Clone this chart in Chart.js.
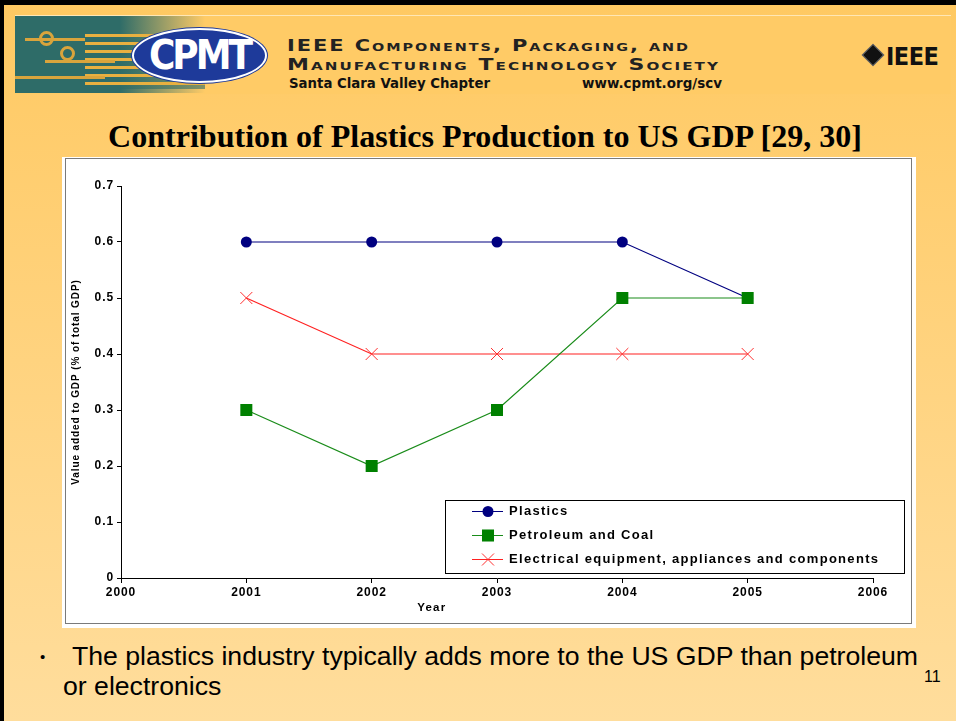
<!DOCTYPE html>
<html lang="en">
<head>
<meta charset="UTF-8">
<title>Contribution of Plastics Production to US GDP</title>
<script src="https://cdn.jsdelivr.net/npm/chart.js@4.4.1/dist/chart.umd.min.js"></script>
<style>
  html, body { margin: 0; padding: 0; }
  body { width: 956px; height: 721px; position: relative; overflow: hidden;
         background: linear-gradient(#FFC962, #FFDD9C); font-family: "Liberation Sans", Arial, sans-serif; }
  #topbar { position: absolute; left: 0; top: 0; width: 956px; height: 5px; background: #000; }
  #leftbar { position: absolute; left: 0; top: 0; width: 4px; height: 721px; background: #000; }
  #strip { position: absolute; left: 15px; top: 15px; width: 936px; height: 78px; background: #FFCB66;
           border-top: 1px solid #FFE7B5; }
  #circuit { position: absolute; left: 15px; top: 16px; width: 190px; height: 77px; overflow: hidden;
             background: linear-gradient(to right, #2E6C68 0 55%, rgba(46,108,104,0) 100%); }
  #circuit .stripes { position: absolute; left: 70px; top: 18px; width: 120px; height: 55px;
             background: repeating-linear-gradient(to bottom, #E8B040 0 3px, rgba(46,108,104,0.6) 3px 8px); }
  #circuit .trace { position: absolute; height: 3px; background: #D9A43C; }
  #circuit .ring { position: absolute; width: 9px; height: 9px; border: 3px solid #D9A43C; border-radius: 50%; }
  #oval { position: absolute; left: 132px; top: 28px; width: 131px; height: 51px; border-radius: 50%;
          background: #1E3A9A; border: 2px solid #fff; box-shadow: 0 0 0 1px #1E3A9A;
          color: #fff; font: bold 40px "DejaVu Sans Condensed", "DejaVu Sans", sans-serif;
          letter-spacing: -3px; text-align: center; line-height: 51px; }
  .fit { position: absolute; white-space: nowrap; transform-origin: left center; }
  .soc { left: 287px; font: bold 16px "DejaVu Sans", sans-serif; font-variant: small-caps;
         letter-spacing: 1.5px; color: #222; }
  .chap { top: 75px; font: bold 14px "DejaVu Sans Condensed", sans-serif; color: #111; }
  #ieee { position: absolute; left: 862px; top: 42px; font: bold 25px "DejaVu Sans Condensed", "DejaVu Sans", sans-serif;
          color: #111; white-space: nowrap; letter-spacing: -0.5px; }
  #ieee span { display: inline-block; width: 14px; height: 14px; background: #111; transform: rotate(45deg);
               margin: 0 5px 0 3px; position: relative; top: -2px; border: 1px solid #777; }
  #title { left: 108px; top: 119px; font: bold 31px "Liberation Serif", "Times New Roman", serif; color: #000; }
  #panel { position: absolute; left: 62px; top: 157px; width: 854px; height: 471px; background: #fff; }
  #frame { position: absolute; left: 3px; top: 1px; width: 845px; height: 464px; border: 1px solid #7a7a7a; }
  #chart { position: absolute; left: 0; top: 0; }
  #bullet { position: absolute; left: 40px; top: 648px; font: 15px "Liberation Sans", sans-serif; }
  .txt { font: 26px "Liberation Sans", Arial, sans-serif; color: #000; }
  #page { position: absolute; left: 924px; top: 668px; font: 16px "Liberation Sans", sans-serif; }
</style>
</head>
<body>
<div id="strip"></div>
<div id="circuit">
  <div class="stripes"></div>
  <div class="trace" style="left:10px;top:22px;width:60px"></div>
  <div class="trace" style="left:30px;top:44px;width:70px"></div>
  <div class="trace" style="left:0;top:60px;width:90px"></div>
  <div class="ring" style="left:24px;top:15px"></div>
  <div class="ring" style="left:45px;top:30px"></div>
</div>
<div id="topbar"></div>
<div id="leftbar"></div>
<div id="oval">CPMT</div>
<div class="fit soc" id="soc1" style="top:36px">IEEE Components, Packaging, and</div>
<div class="fit soc" id="soc2" style="top:55px">Manufacturing Technology Society</div>
<div class="fit chap" id="chap1" style="left:289px">Santa Clara Valley Chapter</div>
<div class="fit chap" id="chap2" style="left:582px">www.cpmt.org/scv</div>
<div id="ieee"><span></span>IEEE</div>
<div class="fit" id="title">Contribution of Plastics Production to US GDP [29, 30]</div>
<div id="panel">
  <div id="frame"></div>
  <canvas id="chart" width="854" height="471"></canvas>
</div>
<div id="bullet">&#8226;</div>
<div class="fit txt" id="line1" style="left:72px;top:641px">The plastics industry typically adds more to the US GDP than petroleum</div>
<div class="fit txt" id="line2" style="left:63px;top:671px">or electronics</div>
<div id="page">11</div>
<script>
// chart values
const years = [2001, 2002, 2003, 2004, 2005];
const plastics = [0.6, 0.6, 0.6, 0.6, 0.5];
const petroleum = [0.3, 0.2, 0.3, 0.5, 0.5];
const electrical = [0.5, 0.4, 0.4, 0.4, 0.4];
const seriesNames = ['Plastics', 'Petroleum and Coal', 'Electrical equipment, appliances and components'];
const xTickLabels = ['2000', '2001', '2002', '2003', '2004', '2005', '2006'];
const yTickLabels = ['0', '0.1', '0.2', '0.3', '0.4', '0.5', '0.6', '0.7'];
const xTitle = 'Year';
const yTitle = 'Value added to GDP (% of total GDP)';

// stretch slide text to the widths seen on the slide
function fit(id, w) {
    const el = document.getElementById(id);
    const k = w / el.getBoundingClientRect().width;
    el.style.transform = 'scaleX(' + k + ')';
    return k;
}
fit('soc1', 403);
fit('soc2', 433);
fit('chap1', 201);
fit('chap2', 140);
fit('title', 754);
const k = fit('line1', 846);
document.getElementById('line2').style.transform = 'scaleX(' + k + ')';

const pts = vals => vals.map((v, i) => ({ x: years[i], y: v }));
const tickFont = { family: '"Liberation Sans", Arial, sans-serif', size: 12, weight: 'bold' };

// marker drawing for the legend box
function marker(ctx, ds, x, y) {
    ctx.save();
    ctx.fillStyle = ds.pointBackgroundColor;
    ctx.strokeStyle = ds.pointBorderColor;
    ctx.lineWidth = 1;
    const r = ds.pointRadius;
    if (ds.pointStyle === 'circle') {
        ctx.beginPath(); ctx.arc(x, y, r, 0, Math.PI * 2); ctx.fill();
    } else if (ds.pointStyle === 'rect') {
        const s = r * Math.SQRT1_2;
        ctx.fillRect(x - s, y - s, 2 * s, 2 * s);
    } else {
        const o = r * Math.SQRT1_2;
        ctx.beginPath();
        ctx.moveTo(x - o, y - o); ctx.lineTo(x + o, y + o);
        ctx.moveTo(x + o, y - o); ctx.lineTo(x - o, y + o);
        ctx.stroke();
    }
    ctx.restore();
}

const spacing = {
    id: 'spacing',
    beforeDraw(chart) { chart.ctx.letterSpacing = '0.9px'; }
};

const overlay = {
    id: 'overlay',
    afterDraw(chart) {
        const { ctx, chartArea, scales } = chart;
        ctx.save();
        ctx.letterSpacing = '1.2px';
        ctx.fillStyle = '#000';
        ctx.font = 'bold 11.5px "Liberation Sans", Arial, sans-serif';
        ctx.textAlign = 'center';
        ctx.textBaseline = 'middle';
        ctx.fillText(xTitle, scales.x.getPixelForValue(2002.48), chartArea.bottom + 30);

        // legend box
        const bx = chartArea.left + 324, by = chartArea.top + 314;
        ctx.strokeStyle = '#000';
        ctx.lineWidth = 1;
        ctx.strokeRect(bx + 0.5, by + 0.5, 459, 73);
        ctx.textAlign = 'left';
        ctx.letterSpacing = '1.3px';
        ctx.font = 'bold 13px "Liberation Sans", Arial, sans-serif';
        chart.data.datasets.forEach((ds, i) => {
            const y = by + 11 + i * 24;
            ctx.strokeStyle = ds.borderColor;
            ctx.beginPath();
            ctx.moveTo(bx + 27, y + 0.5); ctx.lineTo(bx + 58, y + 0.5);
            ctx.stroke();
            marker(ctx, ds, bx + 43, y + 0.5);
            ctx.fillStyle = '#000';
            ctx.fillText(ds.label, bx + 64, y);
        });
        ctx.restore();
    }
};

new Chart(document.getElementById('chart'), {
    type: 'line',
    data: {
        datasets: [
            { label: seriesNames[0], data: pts(plastics), order: 2, borderColor: '#000080', borderWidth: 1.2,
              pointStyle: 'circle', pointRadius: 5.5, pointBackgroundColor: '#000080', pointBorderColor: '#000080',
              pointBorderWidth: 0 },
            { label: seriesNames[1], data: pts(petroleum), order: 0, borderColor: '#1a8c1a', borderWidth: 1.2,
              pointStyle: 'rect', pointRadius: 8.5, pointBackgroundColor: '#008000', pointBorderColor: '#008000',
              pointBorderWidth: 0 },
            { label: seriesNames[2], data: pts(electrical), order: 1, borderColor: '#ff2020', borderWidth: 1.2,
              pointStyle: 'crossRot', pointRadius: 8.5, pointBackgroundColor: '#ff0000', pointBorderColor: '#ff3030',
              pointBorderWidth: 1 }
        ]
    },
    options: {
        responsive: false,
        animation: false,
        tension: 0,
        layout: { padding: { top: 29, right: 43, left: 0, bottom: 0 } },
        plugins: { legend: { display: false }, tooltip: { enabled: false } },
        scales: {
            x: {
                type: 'linear', min: 2000, max: 2006,
                afterFit: s => { s.height = 50; },
                border: { color: '#000', width: 1 },
                grid: { drawOnChartArea: false, drawTicks: true, tickLength: 5, color: '#000' },
                ticks: { stepSize: 1, color: '#000', font: tickFont, padding: 2, maxRotation: 0,
                         callback: (v, i) => xTickLabels[i] }
            },
            y: {
                min: 0, max: 0.7,
                afterFit: s => { s.width = 59; },
                border: { color: '#000', width: 1 },
                grid: { drawOnChartArea: false, drawTicks: true, tickLength: 4, color: '#000' },
                ticks: { stepSize: 0.1, color: '#000', font: tickFont, padding: 3,
                         callback: (v, i) => yTickLabels[i] },
                title: { display: true, text: yTitle, color: '#000', padding: { top: 8, bottom: 0 },
                         font: { family: '"Liberation Sans", Arial, sans-serif', size: 10, weight: 'bold' } }
            }
        }
    },
    plugins: [spacing, overlay]
});
</script>
</body>
</html>
